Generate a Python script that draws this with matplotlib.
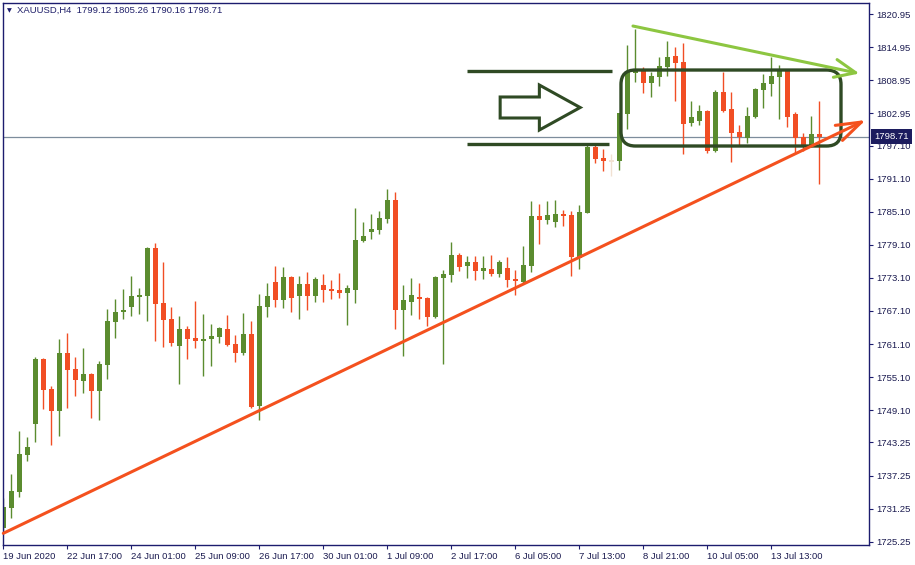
import matplotlib.pyplot as plt
import matplotlib.transforms as mtransforms
from matplotlib.patches import FancyBboxPatch, Polygon

plt.rcParams['font.family'] = ['Liberation Sans', 'DejaVu Sans']

# XAUUSD H4 candles
opens = [1727.79, 1731.41, 1734.32, 1741.03, 1746.65, 1758.38, 1752.94, 1749.01, 1759.47, 1756.57,
         1754.45, 1755.66, 1752.63, 1757.35, 1765.15, 1766.85, 1767.87, 1769.68, 1769.86, 1778.51,
         1768.54, 1765.64, 1760.79, 1763.82, 1762.19, 1761.70, 1762.06, 1762.43, 1763.82, 1761.10,
         1759.52, 1762.92, 1749.91, 1767.87, 1772.35, 1769.14, 1773.25, 1769.86, 1771.98, 1769.86,
         1771.80, 1771.08, 1770.90, 1770.41, 1770.95, 1779.78, 1781.41, 1781.78, 1783.77, 1787.22,
         1767.32, 1768.77, 1769.63, 1769.44, 1766.05, 1773.13, 1773.67, 1777.24, 1775.30, 1775.97,
         1774.40, 1774.70, 1773.85, 1774.89, 1772.89, 1772.40, 1775.30, 1784.32, 1783.65, 1783.28,
         1784.68, 1784.50, 1776.75, 1784.91, 1796.83, 1794.84, 1794.47, 1794.35, 1802.87, 1810.31,
         1810.61, 1808.49, 1809.58, 1811.39, 1813.33, 1812.25, 1801.24, 1801.60, 1803.36, 1796.16,
         1806.80, 1803.72, 1799.55, 1798.52, 1802.32, 1807.22, 1808.31, 1809.58, 1810.61, 1802.81,
         1798.70, 1796.88, 1799.12]
highs = [1733.12, 1737.53, 1745.32, 1744.24, 1758.74, 1758.56, 1753.49, 1762.01, 1763.10, 1758.74,
         1760.38, 1755.80, 1758.02, 1767.45, 1769.26, 1771.08, 1773.43, 1771.26, 1778.69, 1779.42,
         1775.97, 1767.81, 1766.18, 1764.37, 1768.90, 1766.54, 1764.73, 1764.19, 1766.36, 1762.68,
         1766.72, 1765.27, 1770.17, 1772.17, 1775.25, 1775.07, 1773.43, 1773.43, 1774.16, 1773.25,
         1773.80, 1772.71, 1773.98, 1771.80, 1785.77, 1783.23, 1784.68, 1785.22, 1789.21, 1788.67,
         1771.80, 1773.07, 1772.17, 1769.60, 1773.43, 1774.52, 1779.60, 1777.61, 1777.06, 1777.06,
         1777.06, 1777.24, 1776.34, 1776.88, 1774.52, 1778.88, 1787.04, 1786.49, 1787.04, 1787.22,
         1785.40, 1785.22, 1786.31, 1797.19, 1797.19, 1796.47, 1795.56, 1803.00, 1815.33, 1818.23,
         1811.34, 1810.43, 1813.15, 1816.05, 1814.97, 1815.69, 1805.17, 1804.45, 1803.54, 1807.17,
         1810.49, 1806.80, 1800.82, 1804.08, 1807.53, 1810.07, 1813.15, 1811.70, 1810.70, 1803.18,
         1799.37, 1802.45, 1805.26]
lows = [1727.06, 1729.60, 1733.41, 1739.94, 1743.38, 1749.37, 1742.84, 1744.47, 1749.55, 1751.73,
        1752.27, 1747.74, 1747.37, 1754.81, 1762.24, 1765.69, 1766.24, 1766.60, 1765.33, 1761.70,
        1760.61, 1760.79, 1753.90, 1758.44, 1760.43, 1755.35, 1757.17, 1761.34, 1760.79, 1757.89,
        1759.16, 1749.55, 1747.37, 1766.00, 1767.87, 1767.69, 1766.96, 1765.58, 1767.32, 1768.77,
        1768.77, 1769.32, 1769.50, 1764.60, 1768.59, 1779.60, 1780.14, 1781.05, 1783.05, 1763.88,
        1758.98, 1766.42, 1765.69, 1764.42, 1765.87, 1757.53, 1772.40, 1774.40, 1773.13, 1772.76,
        1772.94, 1773.49, 1773.31, 1771.49, 1770.04, 1772.22, 1774.22, 1779.29, 1782.92, 1782.38,
        1782.56, 1773.49, 1774.76, 1784.86, 1793.98, 1792.53, 1791.62, 1792.66, 1800.15, 1808.67,
        1806.68, 1805.95, 1807.95, 1809.76, 1805.23, 1795.62, 1800.69, 1800.87, 1795.80, 1795.98,
        1803.18, 1794.16, 1797.19, 1797.61, 1802.18, 1803.96, 1806.13, 1801.96, 1800.51, 1795.80,
        1796.16, 1796.80, 1790.16]
closes = [1731.60, 1734.44, 1741.15, 1742.42, 1758.38, 1752.81, 1749.01, 1759.47, 1756.44, 1754.63,
          1755.66, 1752.63, 1757.47, 1765.27, 1766.91, 1767.14, 1769.81, 1769.99, 1778.51, 1768.41,
          1765.51, 1761.34, 1763.82, 1762.06, 1761.70, 1762.01, 1762.55, 1764.00, 1760.92, 1759.52,
          1762.92, 1749.73, 1767.99, 1769.81, 1769.14, 1773.25, 1769.50, 1771.98, 1769.86, 1772.89,
          1770.95, 1770.77, 1770.41, 1771.26, 1779.96, 1780.69, 1781.96, 1783.95, 1787.22, 1767.32,
          1769.08, 1769.99, 1769.32, 1766.05, 1773.25, 1773.80, 1777.24, 1775.12, 1775.97, 1774.40,
          1774.89, 1773.80, 1775.97, 1772.76, 1772.58, 1775.43, 1784.32, 1783.65, 1784.50, 1784.68,
          1784.37, 1776.94, 1785.04, 1796.83, 1794.71, 1794.35, 1794.16, 1802.94, 1810.61, 1810.79,
          1808.49, 1809.71, 1811.52, 1813.15, 1812.12, 1801.06, 1802.27, 1803.36, 1796.16, 1806.80,
          1803.41, 1799.42, 1798.70, 1802.45, 1807.35, 1808.44, 1809.71, 1810.61, 1802.32, 1798.52,
          1796.88, 1799.19, 1798.71]
faded_bar = 76

x_tick_bars = [0, 8, 16, 24, 32, 40, 48, 56, 64, 72, 80, 88, 96]
x_tick_labels = ['19 Jun 2020', '22 Jun 17:00', '24 Jun 01:00', '25 Jun 09:00', '26 Jun 17:00',
                 '30 Jun 01:00', '1 Jul 09:00', '2 Jul 17:00', '6 Jul 05:00', '7 Jul 13:00',
                 '8 Jul 21:00', '10 Jul 05:00', '13 Jul 13:00']
y_ticks = [1820.95, 1814.95, 1808.95, 1802.95, 1797.10, 1791.10, 1785.10, 1779.10, 1773.10,
           1767.10, 1761.10, 1755.10, 1749.10, 1743.25, 1737.25, 1731.25, 1725.25]
last_price = 1798.71
header = 'XAUUSD,H4  1799.12 1805.26 1790.16 1798.71'

# drawings on the chart, in (bar, price)
support_line = [(0, 1726.77), (107.8, 1801.73)]
resistance_line = [(78.7, 1818.77), (107.0, 1810.16)]
range_box = [(77.2, 1797.01), (104.7, 1810.79)]
level_lines = [(58.0, 76.1, 1810.61), (58.0, 75.7, 1797.32)]
block_arrow = [(62.1, 1805.9), (67.0, 1805.9), (67.0, 1808.07), (72.1, 1803.99),
               (67.0, 1799.91), (67.0, 1802.09), (62.1, 1802.09)]

up_color = '#5b8c2f'
down_color = '#f14e24'
navy = '#1c1c6e'
dark = '#2f4a24'
fs = 6.8

fig = plt.figure(figsize=(9.15, 5.65), dpi=100)
ax = fig.add_axes([2.5 / 915, 1 - 544.5 / 565, 866.5 / 915, 541.8 / 565])

bars = list(range(len(opens)))
colors = []
for i in bars:
    if i == faded_bar:
        colors.append('#f1e1d2')
    elif closes[i] >= opens[i]:
        colors.append(up_color)
    else:
        colors.append(down_color)

ax.axhline(last_price, color='#7d8d9c', lw=0.9, zorder=0.5)
ax.vlines(bars, lows, highs, colors=colors, lw=1.0, zorder=2)
bottoms = [min(o, c) for o, c in zip(opens, closes)]
heights = [max(abs(c - o), 0.35) for o, c in zip(opens, closes)]
ax.bar(bars, heights, bottom=bottoms, width=0.62, color=colors, linewidth=0, zorder=2.1)

# horizontal levels and the block arrow
for x0, x1, y in level_lines:
    ax.plot([x0, x1], [y, y], color=dark, lw=2.4, solid_capstyle='butt', zorder=3)
ax.add_patch(Polygon(block_arrow, closed=True, fc='white', ec=dark, lw=2.2,
                     joinstyle='miter', zorder=3))

# rounded range box
(bx0, by0), (bx1, by1) = range_box
ax.add_patch(FancyBboxPatch((bx0, by0), bx1 - bx0, by1 - by0,
                            boxstyle='round,pad=0,rounding_size=1.8',
                            mutation_aspect=0.18136 / 0.125,
                            fill=False, ec=dark, lw=2.4, zorder=3))

# trend lines with open arrow heads
ax.annotate('', xy=support_line[1], xytext=support_line[0],
            arrowprops=dict(arrowstyle='->,head_length=1.8,head_width=0.6', color='#f4511e',
                            lw=2.2, shrinkA=0, shrinkB=0), annotation_clip=False, zorder=4)
ax.annotate('', xy=resistance_line[1], xytext=resistance_line[0],
            arrowprops=dict(arrowstyle='->,head_length=1.5,head_width=0.65', color='#8dc641',
                            lw=2.2, shrinkA=0, shrinkB=0), annotation_clip=False, zorder=4)

ax.set_xlim(-0.1, 108.2)
ax.set_ylim(1724.74, 1823.0)

for s in ax.spines.values():
    s.set_color(navy)
    s.set_linewidth(1.0)

ax.yaxis.tick_right()
ax.set_yticks(y_ticks)
ax.set_yticklabels([f'{v:.2f}' for v in y_ticks])
ax.tick_params(axis='y', length=3, width=0.8, color=navy, labelcolor='#1b1b50',
               labelsize=fs, pad=2.5)
ax.set_xticks(x_tick_bars)
ax.set_xticklabels(x_tick_labels)
ax.tick_params(axis='x', length=3, width=0.8, color=navy, labelcolor='#1b1b50',
               labelsize=fs, pad=2.5)
for lab in ax.get_xticklabels():
    lab.set_horizontalalignment('left')

# current price tag on the price scale
tag = mtransforms.blended_transform_factory(ax.transAxes, ax.transData)
ax.text(1.006, last_price, f'{last_price:.2f}', transform=tag, ha='left', va='center',
        fontsize=fs, color='white', clip_on=False, zorder=5,
        bbox=dict(boxstyle='square,pad=0.3', fc='#1c1c5e', ec='none'))

fig.text(6.5 / 915, 1 - 11 / 565, '\u25bc', fontsize=4.5, color=navy, va='center',
         family='DejaVu Sans')
fig.text(17 / 915, 1 - 10.5 / 565, header, fontsize=fs, color='#20206a', va='center')

fig.savefig('out.png', dpi=100)
